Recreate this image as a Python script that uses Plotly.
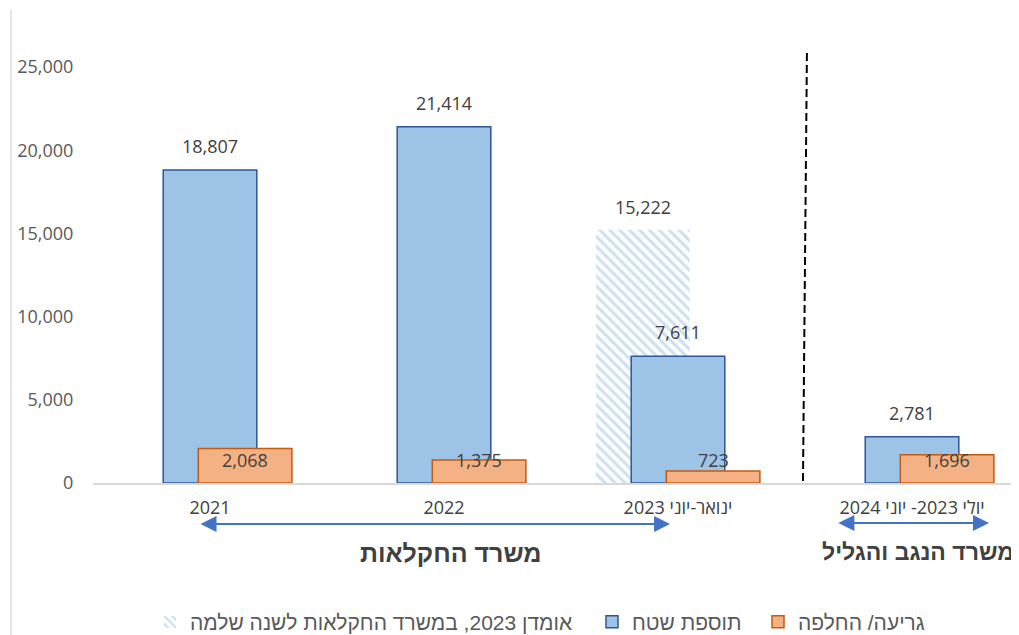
import plotly.graph_objects as go

# ---- data ----
categories = ["2021", "2022", "ינואר-יוני 2023", "יולי 2023- יוני 2024"]
area_added = [18807, 21414, 7611, 2781]          # תוספת שטח
removed_replaced = [2068, 1375, 723, 1696]        # גריעה/ החלפה
estimate_category = ["ינואר-יוני 2023"]
estimate_value = [15222]                          # אומדן 2023

name_area = "תוספת שטח"
name_removed = "גריעה/ החלפה"
name_estimate = "אומדן 2023, במשרד החקלאות לשנה שלמה"
group1_title = "משרד החקלאות"
group2_title = "משרד הנגב והגליל"

RLE, PDF = "\u202b", "\u202c"
def rtl(s):
    return RLE + s + PDF

FONT = "Open Sans, Liberation Sans, DejaVu Sans, sans-serif"
HEB_FONT = "Liberation Sans, Open Sans, DejaVu Sans, sans-serif"
BLUE_FILL, BLUE_LINE = "#9DC3E6", "#2F5597"
ORG_FILL, ORG_LINE = "#F4B183", "#C55A11"
W = 0.40

# page body has an 8px margin: the figure is laid out 8px up/left of screen coords
FIG_W, FIG_H = 1011, 627
ML, MT, MB = 85, 32, 152
PLOT_H = FIG_H - MT - MB            # 443
CAT_PX = 234                        # px per category

def paper_y(screen_y):
    return (FIG_H - MB + 8 - screen_y) / PLOT_H

def paper_x(screen_x):
    return (screen_x - 8 - ML) / (FIG_W - ML)

fig = go.Figure()
fig.add_trace(go.Bar(
    x=estimate_category, y=estimate_value, name=rtl(name_estimate),
    width=W, offset=-0.35, legend="legend",
    marker=dict(color="white", line=dict(width=0),
                pattern=dict(shape="\\", fgcolor="#9DC3E6", bgcolor="white",
                             size=7, solidity=0.45)),
))
fig.add_trace(go.Bar(
    x=categories, y=area_added, name=rtl(name_area),
    width=W, offset=-0.20, legend="legend2",
    marker=dict(color=BLUE_FILL, line=dict(color=BLUE_LINE, width=1.5)),
))
fig.add_trace(go.Bar(
    x=categories, y=removed_replaced, name=rtl(name_removed),
    width=W, offset=-0.05, legend="legend3",
    marker=dict(color=ORG_FILL, line=dict(color=ORG_LINE, width=1.5)),
))

label_font = dict(family=FONT, size=18, color="#404040")
ann = []
idx = {c: i for i, c in enumerate(categories)}
for c, v in zip(categories, area_added):
    ann.append(dict(x=idx[c], y=v, xref="x", yref="y", text=f"{v:,}",
                    showarrow=False, yanchor="middle", yshift=24, font=label_font))
for c, v in zip(estimate_category, estimate_value):
    ann.append(dict(x=idx[c] - 0.15, y=v, xref="x", yref="y", text=f"{v:,}",
                    showarrow=False, yanchor="middle", yshift=23, font=label_font))
ORANGE_LABEL_Y = 1380
for c, v in zip(categories, removed_replaced):
    ann.append(dict(x=idx[c] + 0.15, y=ORANGE_LABEL_Y, xref="x", yref="y", text=f"{v:,}",
                    showarrow=False, yanchor="middle", font=label_font))

# double-headed arrows under the groups
ARROW = "#4472C4"
for (xa, xb, sy) in [(-0.047, 1.966, 524), (2.679, 3.329, 523)]:
    ann.append(dict(x=xb, y=paper_y(sy), xref="x", yref="paper",
                    ax=(xa - xb) * CAT_PX, ay=0, axref="pixel", ayref="pixel",
                    showarrow=True, arrowhead=2, startarrowhead=2, arrowside="end+start",
                    arrowsize=1.6, arrowwidth=2, arrowcolor=ARROW, text=""))
ann.append(dict(x=1.03, y=paper_y(553), xref="x", yref="paper", text=f"<b>{group1_title}</b>",
                showarrow=False, xanchor="center", yanchor="middle",
                font=dict(family=HEB_FONT, size=25, color="#404040")))
ann.append(dict(x=(1016 - 8 - ML) / CAT_PX - 0.5, y=paper_y(552), xref="x", yref="paper",
                text=f"<b>{group2_title}</b>",
                showarrow=False, xanchor="right", yanchor="middle",
                font=dict(family=HEB_FONT, size=23, color="#404040")))

shapes = [
    dict(type="line", xref="x", yref="y", x0=2.551, x1=2.534, y0=25840, y1=0,
         line=dict(color="black", width=2, dash="8px,4px")),
    dict(type="line", xref="paper", yref="paper", x0=paper_x(11), x1=paper_x(11),
         y0=paper_y(10), y1=paper_y(660),
         line=dict(color="#E6E6E6", width=2)),
]

leg_font = dict(family=HEB_FONT, size=21, color="#595959")
leg_y = (FIG_H - (622 - 8)) / FIG_H
def leg(screen_x):
    return dict(orientation="h", xref="container", yref="container",
                x=(screen_x - 8) / FIG_W, xanchor="left", y=leg_y, yanchor="middle",
                font=leg_font, itemwidth=30, bgcolor="rgba(0,0,0,0)")

fig.update_layout(
    width=FIG_W, height=FIG_H, autosize=False,
    margin=dict(l=ML, r=0, t=MT, b=MB),
    paper_bgcolor="white", plot_bgcolor="white",
    barmode="overlay",
    showlegend=True,
    legend=leg(150), legend2=leg(592), legend3=leg(758),
    annotations=ann, shapes=shapes,
    xaxis=dict(type="category", categoryorder="array", categoryarray=categories,
               range=[-0.5, -0.5 + (FIG_W - ML) / CAT_PX], tickvals=categories,
               ticktext=[rtl(c) for c in categories],
               showline=True, linecolor="#D9D9D9", linewidth=1.5,
               ticks="outside", ticklen=8, tickcolor="rgba(0,0,0,0)",
               tickfont=dict(family=FONT, size=18, color="#404040"),
               showgrid=False, zeroline=False),
    yaxis=dict(range=[0, 25000 * PLOT_H / 416], tickvals=[0, 5000, 10000, 15000, 20000, 25000],
               tickformat=",", showgrid=False, zeroline=False, showline=False,
               ticks="outside", ticklen=15, tickcolor="rgba(0,0,0,0)",
               tickfont=dict(family=FONT, size=18, color="#595959")),
)

fig.write_html("out.html")
